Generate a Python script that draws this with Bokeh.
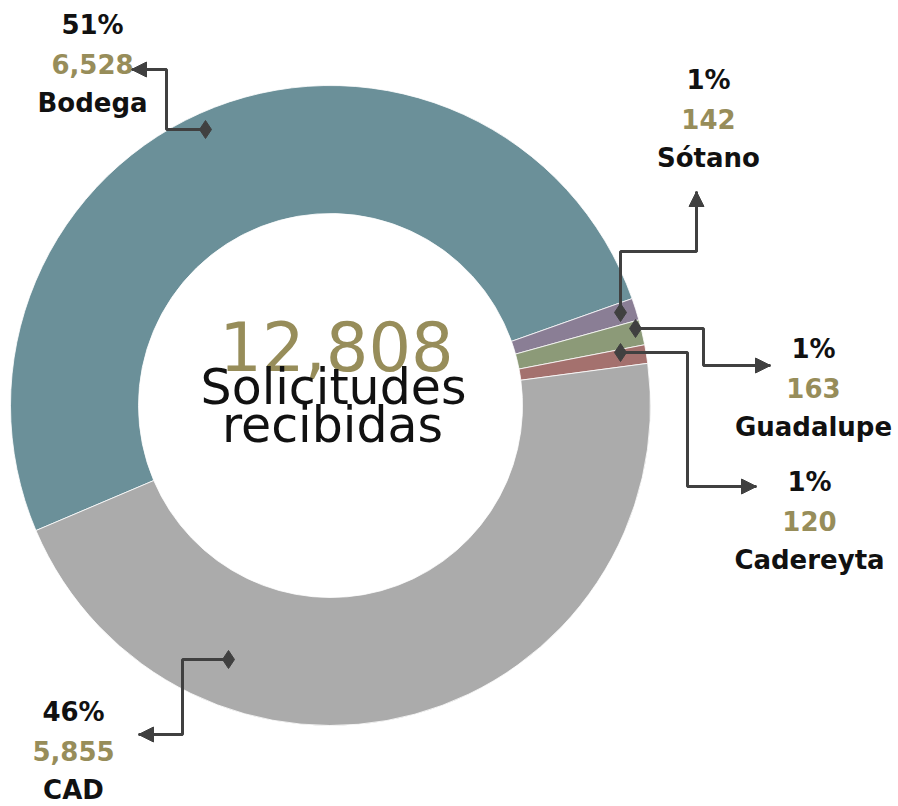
import math
from bokeh.plotting import figure
from bokeh.models import Range1d, Arrow, NormalHead, ColumnDataSource
from bokeh.core.properties import value
from bokeh.embed import file_html
from bokeh.resources import INLINE

# ---- data ----
categories = ["Bodega", "Sótano", "Guadalupe", "Cadereyta", "CAD"]
counts = [6528, 142, 163, 120, 5855]
percent_labels = ["51%", "1%", "1%", "1%", "46%"]
count_labels = ["6,528", "142", "163", "120", "5,855"]
total_label = "12,808"
center_lines = ["Solicitudes", "recibidas"]
colors = ["#6b9099", "#8a7e95", "#8c9a78", "#a4716e", "#ababab"]

W, H = 898, 806


def X(x):
    return x


def Y(y):
    return H - y


def TY(baseline, size):
    # compensate for renderer baseline offset
    return Y(baseline - 0.3 * size)


p = figure(width=W, height=H, output_backend="svg", toolbar_location=None,
           x_range=Range1d(0, W), y_range=Range1d(0, H),
           x_axis_type=None, y_axis_type=None, min_border=0)
p.outline_line_color = None
p.xgrid.visible = False
p.ygrid.visible = False
p.background_fill_color = "white"
p.border_fill_color = "white"

# ---- donut ----
cx, cy = X(330), Y(405)
r_out, r_in = 320, 192
total = sum(counts)
start_deg = 203.0
starts, ends = [], []
a = math.radians(start_deg)
for c in counts:
    starts.append(a)
    a = a - c / total * 2 * math.pi
    ends.append(a)

src = ColumnDataSource(dict(start=starts, end=ends, color=colors, cat=categories))
p.annular_wedge(x=cx, y=cy, inner_radius=r_in, outer_radius=r_out,
                start_angle="start", end_angle="end", direction="clock",
                fill_color="color", line_color="white", line_width=0.8, source=src)

# ---- leaders (image-pixel layout) ----
leaders = [
    [(205, 129), (166, 129), (166, 69), (131, 69)],   # Bodega
    [(620, 312), (620, 251), (696, 251), (696, 191)],  # Sótano
    [(635, 328), (703, 328), (703, 365), (770, 365)],  # Guadalupe
    [(620, 352), (687, 352), (687, 486), (756, 486)],  # Cadereyta
    [(228, 659), (182, 659), (182, 734), (138, 734)],  # CAD
]
lc = "#404040"
for pts in leaders:
    xs = [X(px) for px, py in pts]
    ys = [Y(py) for px, py in pts]
    p.line(xs, ys, line_color=lc, line_width=3)
    p.scatter([xs[0]], [ys[0]], marker="diamond", size=18, fill_color=lc, line_color=lc)
    p.add_layout(Arrow(end=NormalHead(size=15, fill_color=lc, line_color=lc, line_width=1),
                       x_start=xs[-2], y_start=ys[-2], x_end=xs[-1], y_end=ys[-1],
                       line_color=lc, line_width=3))

# ---- labels ----
label_pos = [(92, 32), (708, 87), (813, 356), (809, 489), (73, 719)]
gap1, gap2 = 39, 78
fs = 26
bold = dict(text_align="center", text_baseline="alphabetic", text_font=value("DejaVu Sans"),
            text_font_style="bold", text_font_size=f"{fs}px")
for (lx, ly), pl, cl, cat in zip(label_pos, percent_labels, count_labels, categories):
    p.text([X(lx)], [TY(ly, fs)], text=[pl], text_color="#111111", **bold)
    p.text([X(lx)], [TY(ly + gap1, fs)], text=[cl], text_color="#978d5a", **bold)
    p.text([X(lx)], [TY(ly + gap2, fs)], text=[cat], text_color="#111111", **bold)

# ---- centre ----
thin = value("DejaVu Sans")
big, mid = 67, 49
p.text([X(336)], [TY(366, big)], text=[total_label], text_align="center", text_baseline="alphabetic",
       text_font=thin, text_font_size=f"{big}px", text_color="#978d5a")
p.text([X(333)], [TY(402, mid)], text=[center_lines[0]], text_align="center", text_baseline="alphabetic",
       text_font=thin, text_font_size=f"{mid}px", text_color="#111111")
p.text([X(332)], [TY(440, mid)], text=[center_lines[1]], text_align="center", text_baseline="alphabetic",
       text_font=thin, text_font_size=f"{mid}px", text_color="#111111")

open("out.html", "w").write(file_html(p, INLINE))
